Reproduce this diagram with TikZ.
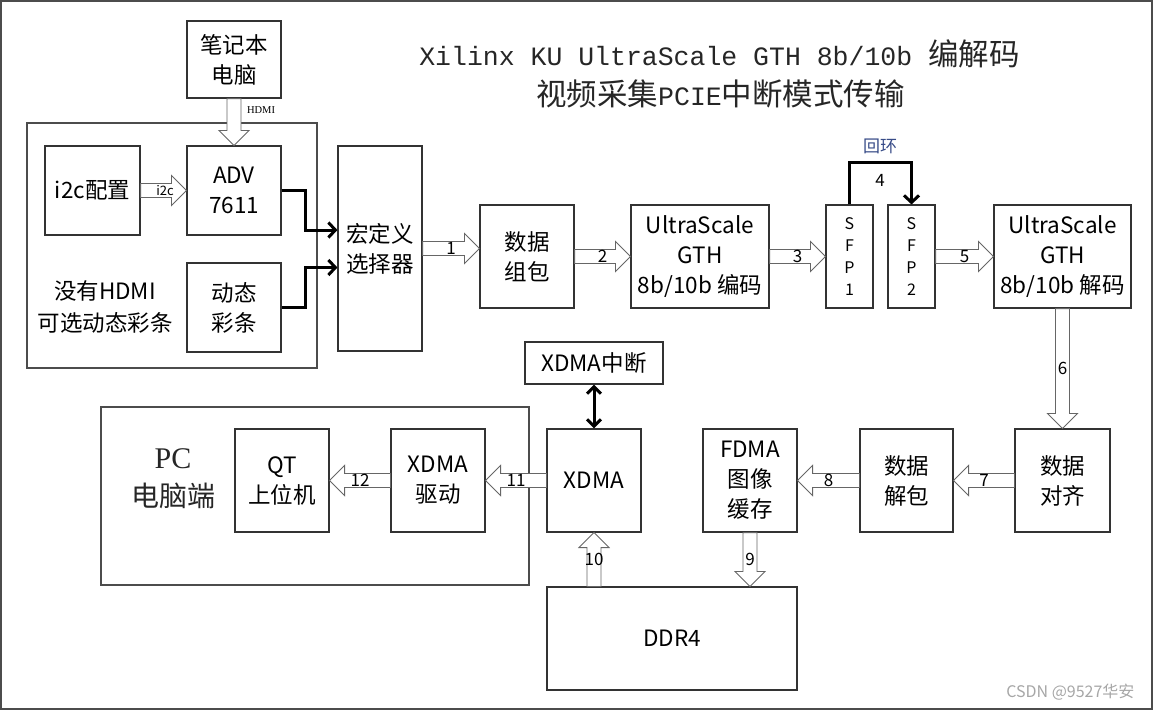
\documentclass[tikz,border=0pt]{standalone}
\usepackage{fontspec}
\setmainfont{Noto Sans CJK SC}
\newfontfamily\titlemono{Liberation Mono}
\newfontfamily\titleserif{Liberation Serif}
\usepackage{xcolor}
\usepackage{tikz}
\usetikzlibrary{arrows.meta}
\usetikzlibrary{calc}

\newcommand{\boxfont}{\fontsize{22.5}{30}\selectfont}
% hollow block arrow between two points, label in the middle
\newcommand{\fatarrow}[4][]{%
  \draw[fat] let \p1=(#2), \p2=(#3), \n1={veclen(\x2-\x1,\y2-\y1)},
      \n2={(\x2-\x1)/\n1}, \n3={(\y2-\y1)/\n1} in
    ({\x1-7*(\n3)},{\y1+7*(\n2)}) -- ({\x2-15*(\n2)-7*(\n3)},{\y2-15*(\n3)+7*(\n2)})
    -- ({\x2-15*(\n2)-15*(\n3)},{\y2-15*(\n3)+15*(\n2)}) -- (\p2)
    -- ({\x2-15*(\n2)+15*(\n3)},{\y2-15*(\n3)-15*(\n2)})
    -- ({\x2-15*(\n2)+7*(\n3)},{\y2-15*(\n3)-7*(\n2)})
    -- ({\x1+7*(\n3)},{\y1-7*(\n2)}) -- cycle;
  \node[num, #1] at ($(#2)!0.5!(#3)$) {#4};}

\begin{document}
\begin{tikzpicture}[x=1pt, y=-1pt,
    box/.style={draw=black!80, line width=1.1pt, align=center, inner sep=0pt, font=\boxfont},
    fat/.style={draw=black!60, line width=0.9pt, fill=white},
    num/.style={font=\fontsize{17}{17}\selectfont, inner sep=0pt},
    wire/.style={line width=3pt, -{Straight Barb[length=7pt, width=15pt]}},
    frame/.style={draw=black!70, line width=1.4pt}]
    \useasboundingbox (0,0) rectangle (1153,710);
    \draw[frame] (1,1) rectangle (1152,709);
    % title
    \node[text=black!85] (title1) at (719.5,54) {{\titlemono\fontsize{26.5}{30}\selectfont Xilinx KU UltraScale GTH 8b/10b\ }{\fontsize{30.5}{30}\selectfont 编解码}};
    \node[text=black!85, font=\fontsize{30.5}{30}\selectfont] (title2) at (720.5,94) {视频采集{\titlemono\fontsize{26.5}{30}\selectfont PCIE}中断模式传输};
    % input side
    \draw[frame] (27,123) rectangle (317,368);
    \node[box, minimum width=94pt, minimum height=77pt] (laptop) at (234,59.5) {笔记本\\电脑};
    \node[box, minimum width=95pt, minimum height=89pt] (cfg) at (92.5,190.5) {i2c配置};
    \node[box, minimum width=94pt, minimum height=89pt] (adv) at (234,190.5) {ADV\\7611};
    \node[box, minimum width=94pt, minimum height=89pt] (bars) at (234,307.5) {动态\\彩条};
    \node[align=center, font=\fontsize{22.5}{32}\selectfont] (nohdmi) at (105,307) {没有HDMI\\可选动态彩条};
    \node[box, minimum width=84pt, minimum height=205pt] (mux) at (380,248.5) {宏定义\\选择器};
    % GTH chain
    \node[box, minimum width=94pt, minimum height=103pt] (pack) at (527,256.5) {数据\\组包};
    \node[box, minimum width=138pt, minimum height=103pt] (enc) at (700,256.5) {UltraScale\\GTH\\8b/10b 编码};
    \node[box, minimum width=47pt, minimum height=103pt, font=\fontsize{16}{22}\selectfont] (sfpa) at (849.5,256.5) {S\\F\\P\\1};
    \node[box, minimum width=47pt, minimum height=103pt, font=\fontsize{16}{22}\selectfont] (sfpb) at (911.5,256.5) {S\\F\\P\\2};
    \node[box, minimum width=137pt, minimum height=103pt] (dec) at (1062.5,256.5) {UltraScale\\GTH\\8b/10b 解码};
    % receive side
    \node[box, minimum width=95pt, minimum height=103pt] (align) at (1062.5,480.5) {数据\\对齐};
    \node[box, minimum width=93pt, minimum height=103pt] (unpack) at (906.5,480.5) {数据\\解包};
    \node[box, minimum width=94pt, minimum height=103pt] (fdma) at (750,480.5) {FDMA\\图像\\缓存};
    \node[box, minimum width=94pt, minimum height=103pt] (xdma) at (594,480.5) {XDMA};
    \node[box, minimum width=138pt, minimum height=42pt] (irq) at (594,363) {XDMA中断};
    \node[box, minimum width=250pt, minimum height=103pt] (ddr) at (672,638.5) {DDR4};
    % PC side
    \draw[frame] (101,407) rectangle (529,585);
    \node[align=center, text=black!85, font=\fontsize{28}{38}\selectfont] (pclbl) at (173,479) {{\titleserif\fontsize{30}{38}\selectfont PC}\\电脑端};
    \node[box, minimum width=94pt, minimum height=103pt] (drv) at (438,480.5) {XDMA\\驱动};
    \node[box, minimum width=94pt, minimum height=103pt] (qt) at (282,480.5) {QT\\上位机};
    % block arrows
    \fatarrow[xshift=27pt, yshift=12pt, font=\titleserif\fontsize{10.5}{10}\selectfont]{laptop.south}{adv.north}{HDMI}
    \fatarrow[xshift=1.5pt, font=\fontsize{13}{13}\selectfont]{cfg.east}{adv.west}{i2c}
    \fatarrow{mux.east}{mux.east -| pack.west}{1}
    \fatarrow{pack.east}{enc.west}{2}
    \fatarrow{enc.east}{sfpa.west}{3}
    \fatarrow{sfpb.east}{dec.west}{5}
    \fatarrow{dec.south}{align.north}{6}
    \fatarrow{align.west}{unpack.east}{7}
    \fatarrow{unpack.west}{fdma.east}{8}
    \coordinate (ddrin) at (fdma.south |- ddr.north);
    \coordinate (ddrout) at (xdma.south |- ddr.north);
    \fatarrow{fdma.south}{ddrin}{9}
    \fatarrow{ddrout}{xdma.south}{10}
    \fatarrow{xdma.west}{drv.east}{11}
    \fatarrow{drv.west}{qt.east}{12}
    % thick wires
    \draw[wire] (adv.east) -- ++(24,0) |- ([yshift=18.5pt]mux.west);
    \draw[wire] (bars.east) -- ++(24,0) |- ([yshift=-19pt]mux.west);
    \draw[wire] (sfpa.north) -- ++(0,-42) -| (sfpb.north);
    \node[num] (loopnum) at (880,180) {4};
    \node[text={rgb,255:red,55;green,75;blue,135}, font=\fontsize{17}{17}\selectfont] (looplbl) at (880,146) {回环};
    \draw[line width=3pt, {Straight Barb[length=7pt, width=14pt]}-{Straight Barb[length=7pt, width=14pt]}] (irq.south) -- (xdma.north);
    % watermark
    \node[text=black!35, font=\fontsize{16}{16}\selectfont, anchor=east] (mark) at (1138,692) {CSDN @9527华安};
\end{tikzpicture}
\end{document}
